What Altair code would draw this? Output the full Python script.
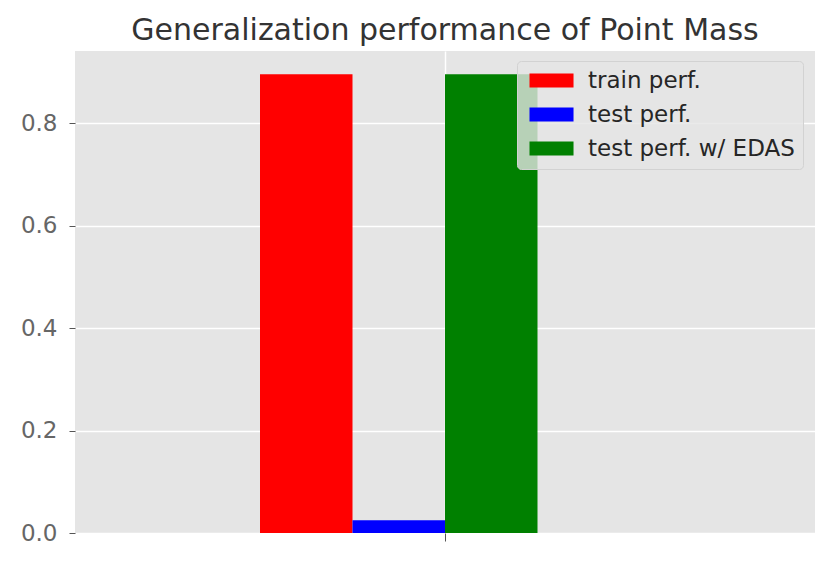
import altair as alt
import pandas as pd

labels = ["train perf.", "test perf.", "test perf. w/ EDAS"]
values = [0.895, 0.025, 0.895]
bar_left = [-0.30, -0.15, 0.0]
bar_width = 0.15
colors = ["#ff0000", "#0000ff", "#008000"]
y_ticks = [0.0, 0.2, 0.4, 0.6, 0.8]
x_ticks = [0]
title = "Generalization performance of Point Mass"

df = pd.DataFrame({
    "label": labels,
    "value": values,
    "x0": bar_left,
    "x1": [b + bar_width for b in bar_left],
})

FONT = "DejaVu Sans"

chart = alt.Chart(df).mark_bar(strokeWidth=0).encode(
    x=alt.X("x0:Q", scale=alt.Scale(domain=[-0.6, 0.6], nice=False, zero=False),
            axis=alt.Axis(values=x_ticks, labelExpr="''", title=None, domain=False,
                          tickColor="#555555", tickSize=8, tickWidth=1,
                          grid=True, gridColor="white", gridWidth=1.5)),
    x2="x1:Q",
    y=alt.Y("value:Q", scale=alt.Scale(domain=[0, 0.9405], nice=False),
            axis=alt.Axis(values=y_ticks, format=".1f", title=None, domain=False,
                          tickColor="#555555", tickSize=6, tickWidth=1,
                          labelFontSize=23, labelColor="#666666", labelPadding=12,
                          labelFont=FONT, grid=True, gridColor="white",
                          gridWidth=1.5)),
    y2=alt.datum(0),
    color=alt.Color("label:N", sort=labels,
                    scale=alt.Scale(domain=labels, range=colors),
                    legend=alt.Legend(
                        title=None, orient="none", legendX=442, legendY=10,
                        symbolType="M-1,-1H5.29V1H-1Z", symbolSize=196,
                        symbolStrokeWidth=0, labelFontSize=23, labelFont=FONT,
                        labelColor="#262626", rowPadding=10, labelOffset=40,
                        labelLimit=0, padding=8,
                        fillColor="rgba(229,229,229,0.8)",
                        strokeColor="#d2d2d2", cornerRadius=4)),
).properties(
    width=740, height=482,
    title=alt.TitleParams(title, fontSize=30, font=FONT, fontWeight="normal",
                          color="#333333", offset=5, anchor="middle"),
    padding={"left": 67, "top": 43, "right": 7, "bottom": 24},
    autosize=alt.AutoSizeParams(type="none"),
).configure_view(fill="#e5e5e5", stroke=None)

chart.save("out.html", embed_options={"renderer": "svg", "actions": False})
